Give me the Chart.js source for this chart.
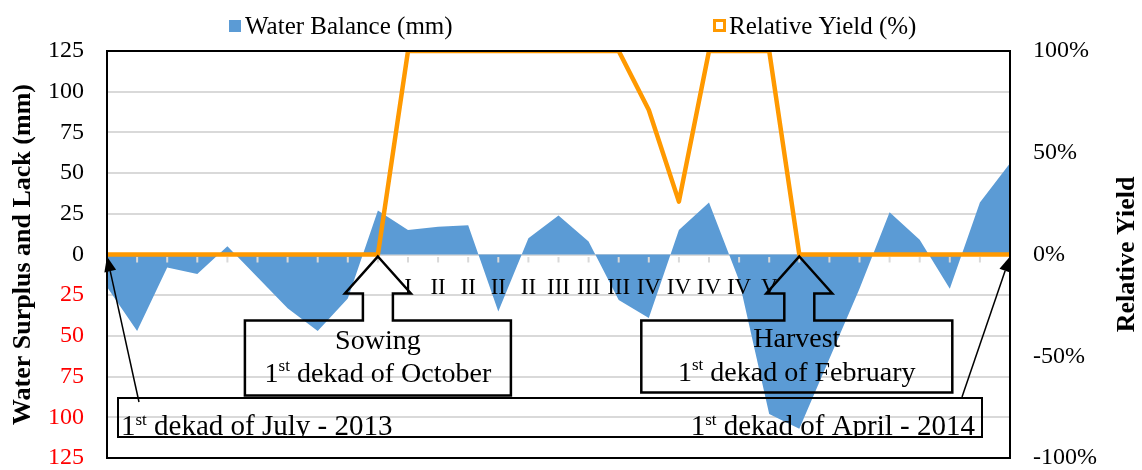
<!DOCTYPE html>
<html>
<head>
<meta charset="utf-8">
<script src="https://cdn.jsdelivr.net/npm/chart.js@4.4.0/dist/chart.umd.min.js"></script>
<style>
    html, body { margin: 0; padding: 0; background: #fff; overflow: hidden; }
    canvas { display: block; }
</style>
</head>
<body>
<canvas id="chrtBalance" width="1142" height="470"></canvas>
<script>
// dekads from 1st dekad of July 2013 to 1st dekad of April 2014
const dekads = ['1', '2', '3', '4', '5', '6', '7', '8', '9', '10', '11', '12', '13', '14', '15', '16',
    '17', '18', '19', '20', '21', '22', '23', '24', '25', '26', '27', '28', '29', '30', '31'];
// water balance in mm (surplus +, lack -)
const waterBalance = [-20, -47, -8, -12, 5, -14, -33, -47, -27, 27, 15, 17, 18, -35, 10, 24,
    8, -28, -39, 15, 32, -16, -98, -107, -64, -21, 26, 9, -21, 32, 56];
// relative yield in %
const relativeYield = [0, 0, 0, 0, 0, 0, 0, 0, 0, 0, 100, 100, 100, 100, 100, 100,
    100, 100, 71, 26, 100, 100, 100, 0, 0, 0, 0, 0, 0, 0, 0];
// crop stage under each dekad
const stageLabels = ['', '', '', '', '', '', '', '', '', '', 'I', 'II', 'II', 'II', 'II', 'III',
    'III', 'III', 'IV', 'IV', 'IV', 'IV', 'V', '', '', '', '', '', '', '', ''];
const leftTicks = [-125, -100, -75, -50, -25, 0, 25, 50, 75, 100, 125];
const rightTicks = [-100, -50, 0, 50, 100];
const sowingIdx = 9, harvestIdx = 23;

const BLUE = 'rgb(91,155,213)', ORANGE = 'rgb(255,153,0)', GRID = '#d9d9d9';
const SERIF = '"Liberation Serif", "Times New Roman", serif';

// text with superscript parts: [[text, isSup], ...]
function richWidth(ctx, parts, size) {
    let w = 0;
    for (const [t, sup] of parts) {
        ctx.font = (sup ? Math.round(size * 0.6) : size) + 'px ' + SERIF;
        w += ctx.measureText(t).width;
    }
    return w;
}
function drawRich(ctx, parts, x, y, size, align) {
    const w = richWidth(ctx, parts, size);
    let cx = align == 'center' ? x - w / 2 : (align == 'right' ? x - w : x);
    ctx.textAlign = 'left';
    ctx.textBaseline = 'alphabetic';
    for (const [t, sup] of parts) {
        ctx.font = (sup ? Math.round(size * 0.6) : size) + 'px ' + SERIF;
        ctx.fillText(t, cx, sup ? y - size * 0.36 : y);
        cx += ctx.measureText(t).width;
    }
}
function upCallout(ctx, tx, ty, o) {
    ctx.beginPath();
    ctx.moveTo(tx, ty);
    ctx.lineTo(tx + o.head, ty + o.headH);
    ctx.lineTo(tx + o.shaft, ty + o.headH);
    ctx.lineTo(tx + o.shaft, ty + o.top);
    ctx.lineTo(tx + o.right, ty + o.top);
    ctx.lineTo(tx + o.right, ty + o.bottom);
    ctx.lineTo(tx + o.left, ty + o.bottom);
    ctx.lineTo(tx + o.left, ty + o.top);
    ctx.lineTo(tx - o.shaft, ty + o.top);
    ctx.lineTo(tx - o.shaft, ty + o.headH);
    ctx.lineTo(tx - o.head, ty + o.headH);
    ctx.closePath();
    ctx.stroke();
}
function arrow(ctx, x0, y0, x1, y1) {
    const a = Math.atan2(y1 - y0, x1 - x0), len = 15, half = 6;
    const bx = x1 - len * Math.cos(a), by = y1 - len * Math.sin(a);
    ctx.beginPath();
    ctx.moveTo(x0, y0);
    ctx.lineTo(bx, by);
    ctx.stroke();
    ctx.beginPath();
    ctx.moveTo(x1, y1);
    ctx.lineTo(bx + half * Math.sin(a), by - half * Math.cos(a));
    ctx.lineTo(bx - half * Math.sin(a), by + half * Math.cos(a));
    ctx.closePath();
    ctx.fill();
}

const decorPlugin = {
    id: 'decor',
    afterDatasetsDraw(chart) {
        const ctx = chart.ctx, ca = chart.chartArea;
        const xs = chart.scales.x, ys = chart.scales.y;
        const y0 = ys.getPixelForValue(0);
        ctx.save();
        // category tick marks on the zero line
        ctx.strokeStyle = GRID;
        ctx.lineWidth = 2;
        for (let i = 0; i < dekads.length; i++) {
            const x = xs.getPixelForValue(i);
            ctx.beginPath();
            ctx.moveTo(x, y0 + 2.5);
            ctx.lineTo(x, y0 + 8);
            ctx.stroke();
        }
        // crop stage labels
        ctx.fillStyle = '#000';
        ctx.font = '23px ' + SERIF;
        ctx.textAlign = 'center';
        ctx.textBaseline = 'alphabetic';
        stageLabels.forEach((s, i) => {
            if (s) ctx.fillText(s, xs.getPixelForValue(i), y0 + 39);
        });
        // plot border
        ctx.strokeStyle = '#000';
        ctx.lineWidth = 2;
        ctx.strokeRect(ca.left, ca.top, ca.right - ca.left, ca.bottom - ca.top);
        ctx.restore();
    },
    afterDraw(chart) {
        const ctx = chart.ctx, ca = chart.chartArea;
        const xs = chart.scales.x, ys = chart.scales.y;
        const y0 = ys.getPixelForValue(0);
        ctx.save();
        ctx.strokeStyle = '#000';
        ctx.fillStyle = '#000';
        ctx.lineJoin = 'miter';

        // sowing / harvest callouts
        ctx.lineWidth = 2.5;
        const sx = xs.getPixelForValue(sowingIdx), hx = xs.getPixelForValue(harvestIdx);
        const sw = {head: 33, shaft: 15, headH: 37, top: 64, bottom: 139, left: -133, right: 133};
        const hv = {head: 33, shaft: 15, headH: 37, top: 64, bottom: 136, left: -158, right: 153};
        upCallout(ctx, sx, y0 + 2, sw);
        upCallout(ctx, hx, y0 + 2, hv);
        const scx = sx + (sw.left + sw.right) / 2, hcx = hx + (hv.left + hv.right) / 2;
        drawRich(ctx, [['Sowing', false]], scx, y0 + 94, 28, 'center');
        drawRich(ctx, [['1', false], ['st', true], [' dekad of October', false]], scx, y0 + 127, 28, 'center');
        drawRich(ctx, [['Harvest', false]], hcx, y0 + 92, 28, 'center');
        drawRich(ctx, [['1', false], ['st', true], [' dekad of February', false]], hcx, y0 + 126, 28, 'center');

        // start / end text box
        const bl = ca.left + 11, br = ca.right - 28, bt = ca.bottom - 60, bb = ca.bottom - 21;
        ctx.lineWidth = 2;
        ctx.strokeRect(bl, bt, br - bl, bb - bt);
        ctx.save();
        ctx.beginPath();
        ctx.rect(bl, bt, br - bl, bb - bt - 1);
        ctx.clip();
        drawRich(ctx, [['1', false], ['st', true], [' dekad of July - 2013', false]], bl + 3, bb - 2, 29, 'left');
        drawRich(ctx, [['1', false], ['st', true], [' dekad of April - 2014', false]], br - 7, bb - 2, 29, 'right');
        ctx.restore();
        ctx.lineWidth = 1.5;
        arrow(ctx, ca.left + 32, bt + 4, xs.getPixelForValue(0), y0 + 2);
        arrow(ctx, ca.right - 48, bt - 1, xs.getPixelForValue(dekads.length - 1), y0 + 2);

        // legend
        const ds = chart.data.datasets;
        ctx.font = '25px ' + SERIF;
        ctx.textAlign = 'left';
        ctx.textBaseline = 'middle';
        ctx.fillStyle = BLUE;
        ctx.fillRect(229, 20, 12, 12);
        ctx.fillStyle = '#000';
        ctx.fillText(ds[1].label, 245, 27);
        ctx.strokeStyle = ORANGE;
        ctx.lineWidth = 3;
        ctx.strokeRect(714.5, 20.5, 10, 10);
        ctx.fillText(ds[0].label, 729, 27);

        // right axis title (reads bottom to top)
        ctx.translate(1127, (ca.top + ca.bottom) / 2);
        ctx.rotate(-Math.PI / 2);
        ctx.font = 'bold 26px ' + SERIF;
        ctx.textAlign = 'center';
        ctx.fillText('Relative Yield', 0, 0);
        ctx.restore();
    }
};

// keep tick label padding from eating into the plot height
function fixAxis(width) {
    return s => {
        s.width = width;
        s.paddingTop = 12;
        s.paddingBottom = 12;
    };
}

new Chart(document.getElementById('chrtBalance'), {
    type: 'line',
    data: {
        labels: dekads,
        datasets: [{
            label: 'Relative Yield (%)',
            data: relativeYield,
            yAxisID: 'y1',
            borderColor: ORANGE,
            borderWidth: 4.5,
            borderJoinStyle: 'round',
            fill: false,
            pointRadius: 0,
            order: 1
        }, {
            label: 'Water Balance (mm)',
            data: waterBalance,
            yAxisID: 'y',
            borderColor: 'rgba(0,0,0,0)',
            borderWidth: 0,
            backgroundColor: BLUE,
            fill: 'origin',
            pointRadius: 0,
            order: 2
        }]
    },
    options: {
        responsive: false,
        animation: false,
        devicePixelRatio: 1,
        layout: { padding: { top: 51, bottom: 12, left: 0, right: 0 } },
        plugins: {
            legend: { display: false },
            tooltip: { enabled: false }
        },
        scales: {
            x: { type: 'category', offset: false, display: false },
            y: {
                position: 'left',
                min: leftTicks[0],
                max: leftTicks[leftTicks.length - 1],
                afterBuildTicks: s => { s.ticks = leftTicks.map(v => ({ value: v })); },
                ticks: {
                    padding: 23,
                    color: c => c.tick.value < 0 ? '#ff0000' : '#000',
                    font: { family: SERIF, size: 24, lineHeight: 1 },
                    callback: v => Math.abs(v)
                },
                grid: { color: GRID, lineWidth: 2, drawTicks: false },
                border: { display: false },
                title: {
                    display: true,
                    text: 'Water Surplus and Lack (mm)',
                    color: '#000',
                    font: { family: SERIF, size: 26, weight: 'bold' },
                    padding: { top: 8, bottom: 0 }
                },
                afterFit: fixAxis(107)
            },
            y1: {
                position: 'right',
                min: rightTicks[0],
                max: rightTicks[rightTicks.length - 1],
                afterBuildTicks: s => { s.ticks = rightTicks.map(v => ({ value: v })); },
                ticks: {
                    padding: 23,
                    color: '#000',
                    font: { family: SERIF, size: 24, lineHeight: 1 },
                    callback: v => v + '%'
                },
                grid: { display: false, drawTicks: false },
                border: { display: false },
                afterFit: fixAxis(132)
            }
        }
    },
    plugins: [decorPlugin]
});
</script>
</body>
</html>
